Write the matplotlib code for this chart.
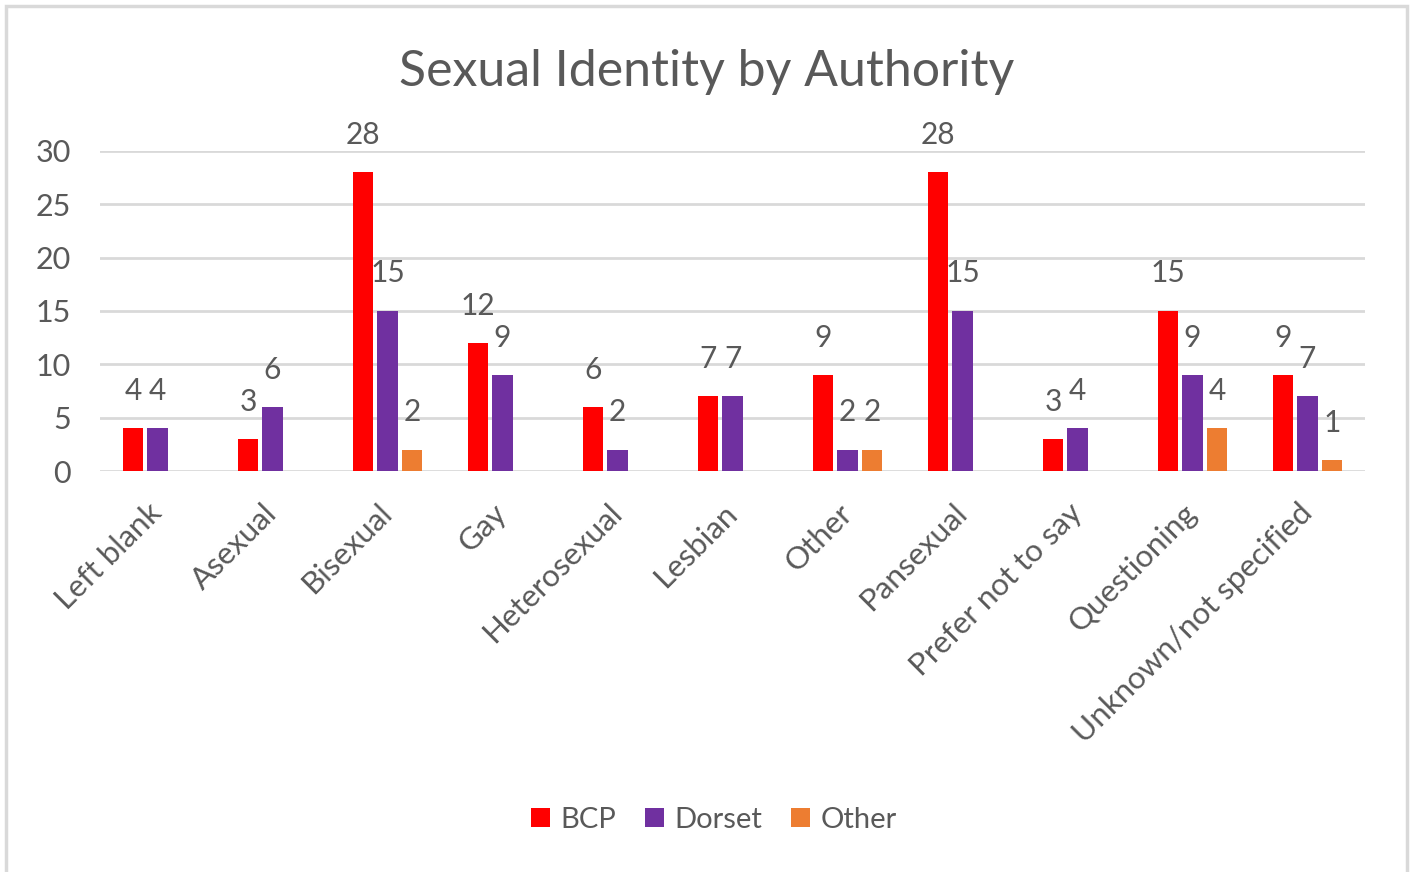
import numpy as np
from matplotlib import pyplot as plt
from matplotlib.patches import Rectangle

# data
categories = ['Left blank', 'Asexual', 'Bisexual', 'Gay', 'Heterosexual', 'Lesbian',
              'Other', 'Pansexual', 'Prefer not to say', 'Questioning',
              'Unknown/not specified']
bcp = [4, 3, 28, 12, 6, 7, 9, 28, 3, 15, 9]
dorset = [4, 6, 15, 9, 2, 7, 2, 15, 4, 9, 7]
other = [None, None, 2, None, None, None, 2, None, None, 4, 1]

series_names = ['BCP', 'Dorset', 'Other']
series_colors = ['#FF0000', '#7030A0', '#ED7D31']
text_col = '#595959'
grid_col = '#D9D9D9'

plt.rcParams['font.family'] = ['Lato', 'DejaVu Sans']

W, H = 1416, 872
fig = plt.figure(figsize=(W / 100, H / 100), dpi=100)

# chart border
fig.patches.append(Rectangle((6 / W, -0.01), 1401 / W, 1 - 6 / H + 0.01,
                             transform=fig.transFigure, fill=False,
                             edgecolor=grid_col, linewidth=2.5))

ax = fig.add_axes([100 / W, 1 - 471 / H, 1265 / W, 320 / H])

x = np.arange(len(categories))
width = 0.175
step = 0.213

for i, (vals, name, col) in enumerate(zip([bcp, dorset, other], series_names, series_colors)):
    v = np.array([np.nan if a is None else a for a in vals], dtype=float)
    xs = x + (i - 1) * step
    ax.bar(xs, v, width, color=col, label=name, zorder=3)
    for xi, vi in zip(xs, v):
        if np.isnan(vi):
            continue
        ax.annotate(f'{int(vi)}', (xi, vi), xytext=(0, 27), textcoords='offset points',
                    ha='center', va='center', fontsize=21.5, color=text_col)

ax.set_xlim(-0.5, len(categories) - 0.5)
ax.set_ylim(0, 30)
ax.set_yticks(np.arange(0, 31, 5))
ax.yaxis.grid(True, color=grid_col, linewidth=2, zorder=0)
ax.set_axisbelow(True)
for s in ax.spines.values():
    s.set_visible(False)
ax.tick_params(axis='both', length=0, labelcolor=text_col)
ax.tick_params(axis='y', pad=21, labelsize=22)
ax.set_xticks(x)
ax.set_xticklabels(categories, rotation=45, ha='right', va='center',
                   rotation_mode='anchor')
ax.tick_params(axis='x', pad=27, labelsize=22.5)

fig.text(707 / W, 1 - 72 / H, 'Sexual Identity by Authority', ha='center', va='center',
         fontsize=36, color=text_col)

fig.legend(loc='center', bbox_to_anchor=(714 / W, 1 - 820 / H), ncol=3, frameon=False,
           fontsize=21, labelcolor=text_col, handlelength=0.65, handleheight=0.65,
           handletextpad=0.35, columnspacing=1.0)

fig.savefig('out.png', dpi=100)
